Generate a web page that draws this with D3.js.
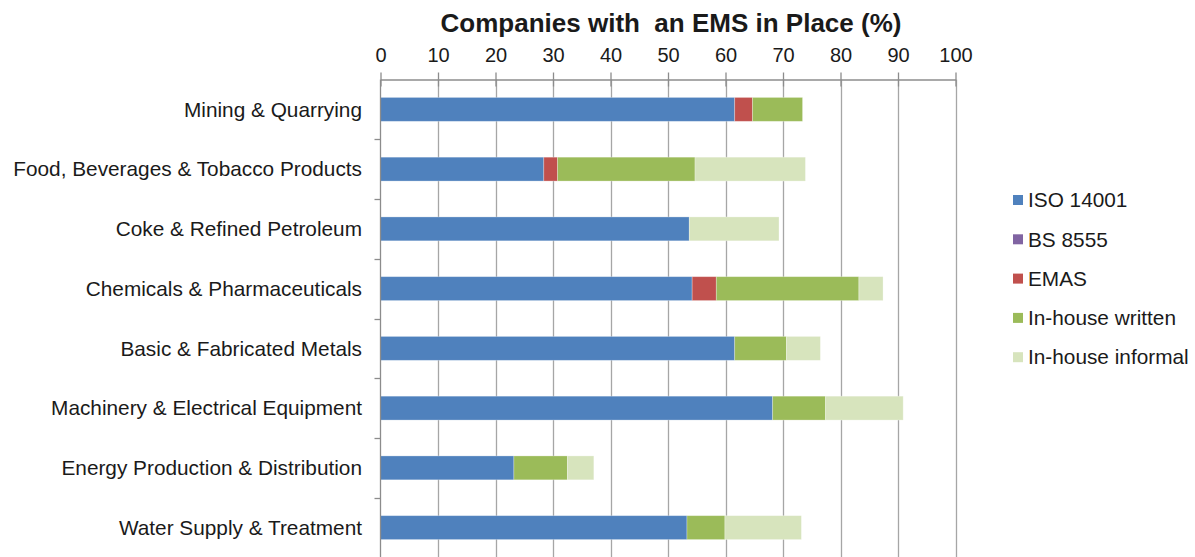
<!DOCTYPE html>
<html><head><meta charset="utf-8">
<script src="https://cdn.jsdelivr.net/npm/d3@7"></script>
<style>body{margin:0;background:#fff}svg{display:block}text{font-family:"Liberation Sans",Arial,sans-serif;fill:#1a1a1a}</style>
</head><body><svg id="c" width="1195" height="557"></svg>
<script>
const categories = ["Mining & Quarrying","Food, Beverages & Tobacco Products","Coke & Refined Petroleum","Chemicals & Pharmaceuticals","Basic & Fabricated Metals","Machinery & Electrical Equipment","Energy Production & Distribution","Water Supply & Treatment"];
const seriesNames = ["ISO 14001","BS 8555","EMAS","In-house written","In-house informal"];
const iso14001 = [61.6,28.4,53.7,54.2,61.6,68.2,23.2,53.3];
const bs8555 = [0,0,0,0,0,0,0,0];
const emas = [3.1,2.4,0,4.2,0,0,0,0];
const inhouseWritten = [8.7,23.9,0,24.8,9.0,9.2,9.3,6.6];
const inhouseInformal = [0,19.2,15.6,4.2,5.9,13.5,4.6,13.3];
const xTicks = [0,10,20,30,40,50,60,70,80,90,100];
const colors = ["#4F81BD","#8064A2","#C0504D","#9BBB59","#D7E4BD"];
const title = "Companies with\u00a0 an EMS in Place (%)";

const seriesValues = [iso14001,bs8555,emas,inhouseWritten,inhouseInformal];
const rows = categories.map((c,i)=>{const o={cat:c}; seriesNames.forEach((s,j)=>o[s]=seriesValues[j][i]); return o;});
const stack = d3.stack().keys(seriesNames)(rows);

const svg = d3.select("#c");
const L=380.5, R=955.5, T=79.5, B=557.5;
const FS = "20.8px";
const x = d3.scaleLinear().domain([0,100]).range([L,R]);
const y = d3.scaleBand().domain(categories).range([T,B]).paddingInner(0.6).paddingOuter(0.3);
const yb = d3.scaleBand().domain(categories).range([T,B]);

// gridlines
svg.append("g").selectAll("line").data(xTicks.slice(1)).join("line")
  .attr("x1",d=>Math.round(x(d))+0.5).attr("x2",d=>Math.round(x(d))+0.5)
  .attr("y1",T).attr("y2",B).attr("stroke","#a6a6a6").attr("stroke-width",1.3);

// bars
svg.append("g").selectAll("g").data(stack).join("g").attr("fill",(d,i)=>colors[i])
  .selectAll("rect").data(d=>d).join("rect")
  .attr("x",d=>x(d[0])).attr("width",d=>Math.max(0,x(d[1])-x(d[0])))
  .attr("y",d=>y(d.data.cat)).attr("height",y.bandwidth())
  .attr("stroke",d=>(d[1]-d[0])>0?"rgba(255,255,255,0.35)":"none").attr("stroke-width",0.8);

// top axis
const xa = svg.append("g").attr("transform",`translate(0,${T})`)
  .call(d3.axisTop(x).tickValues(xTicks).tickSize(7).tickSizeOuter(0).tickPadding(11));
xa.select(".domain").attr("stroke","#8c8c8c").attr("stroke-width",1.3);
xa.selectAll(".tick line").attr("stroke","#8c8c8c").attr("stroke-width",1.3).attr("y2",-7);
xa.selectAll(".tick").append("line").attr("stroke","#8c8c8c").attr("stroke-width",1.3).attr("y1",0).attr("y2",7);
xa.selectAll("text").style("font-size","20px").style("font-family","'Liberation Sans',Arial,sans-serif").attr("fill","#1a1a1a");

// left axis
svg.append("line").attr("x1",L).attr("x2",L).attr("y1",T).attr("y2",B).attr("stroke","#8c8c8c").attr("stroke-width",1.3);
svg.append("g").selectAll("line").data(categories.slice(1)).join("line")
  .attr("x1",L-6).attr("x2",L).attr("y1",d=>Math.round(yb(d))+0.5).attr("y2",d=>Math.round(yb(d))+0.5)
  .attr("stroke","#8c8c8c").attr("stroke-width",1.3);
svg.append("g").selectAll("text").data(categories).join("text")
  .attr("x",362).attr("y",d=>yb(d)+yb.bandwidth()/2).attr("dy","0.35em")
  .attr("text-anchor","end").style("font-size",FS).text(d=>d);

// title
svg.append("text").attr("x",671).attr("y",32).attr("text-anchor","middle")
  .style("font-size","26px").style("font-weight","bold").attr("fill","#000").text(title);

// legend
const lg = svg.append("g").selectAll("g").data(seriesNames).join("g")
  .attr("transform",(d,i)=>`translate(1013,${200+i*39.3})`);
lg.append("rect").attr("x",0).attr("y",-5).attr("width",10).attr("height",10).attr("fill",(d,i)=>colors[i]);
lg.append("text").attr("x",15).attr("y",0).attr("dy","0.35em").style("font-size",FS).text(d=>d);
</script></body></html>
